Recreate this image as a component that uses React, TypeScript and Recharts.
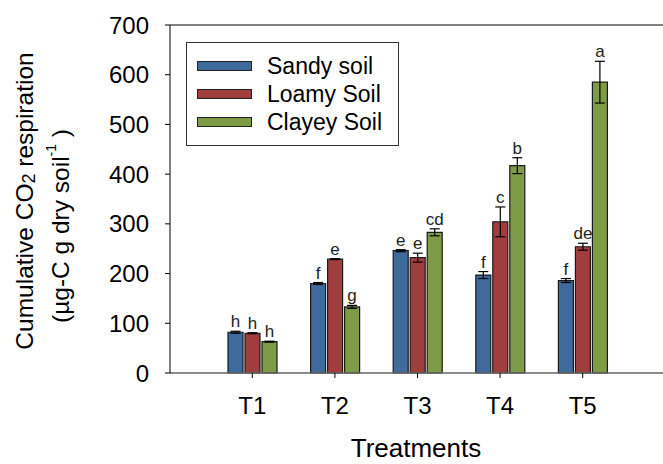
import * as React from 'react';
import {
	BarChart,
	Bar,
	XAxis,
	YAxis,
	ErrorBar,
	LabelList,
	ReferenceLine,
} from 'recharts';

const categories = ['T1', 'T2', 'T3', 'T4', 'T5'];
const sandy = [82, 180, 246, 197, 186];
const loamy = [80, 229, 232, 304, 254];
const clayey = [63, 133, 283, 417, 585];
const sandyErr = [2, 2, 2, 7, 4];
const loamyErr = [1, 1, 9, 30, 7];
const clayeyErr = [1, 3, 7, 16, 42];
const sandyLetters = ['h', 'f', 'e', 'f', 'f'];
const loamyLetters = ['h', 'e', 'e', 'c', 'de'];
const clayeyLetters = ['h', 'g', 'cd', 'b', 'a'];
const yTicks = [0, 100, 200, 300, 400, 500, 600, 700];

const seriesNames = ['Sandy soil', 'Loamy Soil', 'Clayey Soil'];
const colors = ['#3f6a9c', '#a03e3e', '#7e9b48'];

const font = '"Liberation Sans", Arial, sans-serif';

const data = categories.map((name, i) => ({
	name,
	sandy: sandy[i],
	sandyErr: sandyErr[i],
	loamy: loamy[i],
	loamyErr: loamyErr[i],
	clayey: clayey[i],
	clayeyErr: clayeyErr[i],
}));

// letter above the error bar, offset converted with the bar's own px/unit ratio
function letterLabel(errs: number[], letters: string[]) {
	return (props: any) => {
		const { x, y, width, height, value, index } = props;
		const perUnit = value ? height / value : 0;
		const top = y - errs[index] * perUnit;
		return (
			<text
				x={x + width / 2}
				y={top - 4}
				textAnchor='middle'
				fontSize={17}
				fontFamily={font}
				fill='#222'
			>
				{letters[index]}
			</text>
		);
	};
}

function LegendBox() {
	return (
		<div
			style={{
				position: 'absolute',
				left: 186,
				top: 42,
				border: '1px solid #333',
				width: 213,
				height: 104,
				boxSizing: 'border-box',
				paddingTop: 9,
				fontFamily: font,
				background: '#fff',
			}}
		>
			{seriesNames.map((n, i) => (
				<div
					key={n}
					style={{ display: 'flex', alignItems: 'center', height: 28 }}
				>
					<div
						style={{
							marginLeft: 10,
							width: 55,
							height: 10,
							background: colors[i],
							border: '1px solid #222',
							boxSizing: 'border-box',
						}}
					/>
					<span style={{ marginLeft: 15, fontSize: 23, color: '#000' }}>
						{n}
					</span>
				</div>
			))}
		</div>
	);
}

function YTitle() {
	return (
		<g fontFamily={font} fontSize={24.5} fill='#000'>
			<text x={24} y={201} transform='rotate(-90 24 201)' textAnchor='middle' dominantBaseline='central'>
				Cumulative CO
				<tspan dy={5} fontSize={18}>2</tspan>
				<tspan dy={-5}> respiration</tspan>
			</text>
			<text x={60} y={226} transform='rotate(-90 60 226)' textAnchor='middle' dominantBaseline='central'>
				(µg-C g dry soil
				<tspan dy={-9} fontSize={14}>-1</tspan>
				<tspan dy={9}> )</tspan>
			</text>
		</g>
	);
}

export default function App() {
	return (
		<div
			style={{
				position: 'absolute',
				left: 0,
				top: 0,
				width: 663,
				height: 464,
				overflow: 'hidden',
				background: '#fff',
				fontFamily: font,
			}}
		>
			<BarChart
				width={663}
				height={464}
				data={data}
				margin={{ top: 25, right: 0, bottom: 0, left: 0 }}
				barSize={15}
				barGap={2}
			>
				<ReferenceLine y={700} stroke='#808080' strokeWidth={2} />
				<XAxis
					dataKey='name'
					height={91}
					padding={{ left: 41, right: 39 }}
					axisLine={{ stroke: '#666', strokeWidth: 1.5 }}
					tickLine={{ stroke: '#000' }}
					tickSize={5}
					tickMargin={19}
					tick={{ fontSize: 24, fill: '#000', fontFamily: font }}
					label={{
						content: () => (
							<text
								x={416}
								y={457}
								textAnchor='middle'
								fontSize={26}
								fontFamily={font}
								fill='#000'
							>
								Treatments
							</text>
						),
					}}
				/>
				<YAxis
					type='number'
					domain={[0, 700]}
					ticks={yTicks}
					width={170}
					axisLine={{ stroke: '#000' }}
					tickLine={{ stroke: '#000' }}
					tickSize={5}
					tickMargin={16}
					tick={{ fontSize: 24, fill: '#000', fontFamily: font }}
					label={{ content: () => <YTitle /> }}
				/>
				<Bar
					dataKey='sandy'
					fill={colors[0]}
					stroke='#1a1a1a'
					strokeWidth={1.2}
					isAnimationActive={false}
				>
					<ErrorBar dataKey='sandyErr' width={5} stroke='#000' strokeWidth={1.2} />
					<LabelList dataKey='sandy' content={letterLabel(sandyErr, sandyLetters)} />
				</Bar>
				<Bar
					dataKey='loamy'
					fill={colors[1]}
					stroke='#1a1a1a'
					strokeWidth={1.2}
					isAnimationActive={false}
				>
					<ErrorBar dataKey='loamyErr' width={5} stroke='#000' strokeWidth={1.2} />
					<LabelList dataKey='loamy' content={letterLabel(loamyErr, loamyLetters)} />
				</Bar>
				<Bar
					dataKey='clayey'
					fill={colors[2]}
					stroke='#1a1a1a'
					strokeWidth={1.2}
					isAnimationActive={false}
				>
					<ErrorBar dataKey='clayeyErr' width={5} stroke='#000' strokeWidth={1.2} />
					<LabelList dataKey='clayey' content={letterLabel(clayeyErr, clayeyLetters)} />
				</Bar>
			</BarChart>
			<LegendBox />
		</div>
	);
}
